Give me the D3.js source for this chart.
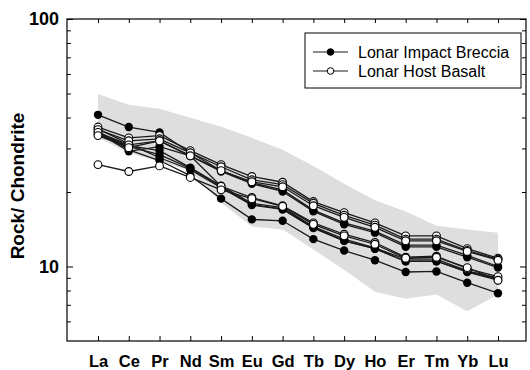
<!DOCTYPE html>
<html>
<head>
<meta charset="utf-8">
<script src="https://cdn.jsdelivr.net/npm/d3@7"></script>
<style>
  body { margin: 0; background: #fff; }
  svg { display: block; font-family: "Liberation Sans", Arial, Helvetica, sans-serif; }
</style>
</head>
<body>
<svg id="chart"></svg>
<script>
// REE elements (x categories)
const elements = ["La", "Ce", "Pr", "Nd", "Sm", "Eu", "Gd", "Tb", "Dy", "Ho", "Er", "Tm", "Yb", "Lu"]

// grey field, upper and lower bounds
const fieldUpper = [49.8, 45.0, 43.4, 39.9, 36.7, 33.1, 29.6, 25.5, 21.6, 18.5, 16.7, 14.6, 14.1, 13.7]
const fieldLower = [33.1, 28.8, 26.5, 24.4, 18.1, 14.5, 14.1, 11.7, 9.7, 7.9, 7.4, 7.7, 6.6, 7.7]

// Lonar Impact Breccia (filled)
const breccia1 = [41.0, 36.6, 34.8, 28.8, 24.4, 21.8, 20.4, 16.9, 15.0, 13.9, 12.2, 12.2, 11.1, 10.0]
const breccia2 = [34.7, 29.2, 30.5, 28.0, 24.2, 21.6, 20.1, 16.7, 14.8, 13.7, 12.0, 12.0, 10.9, 9.9]
const breccia3 = [34.4, 30.8, 29.4, 25.1, 21.2, 18.0, 17.3, 14.5, 12.9, 11.9, 10.7, 10.7, 9.6, 9.0]
const breccia4 = [34.1, 30.5, 28.3, 24.9, 21.0, 17.8, 17.1, 14.4, 12.7, 11.8, 10.5, 10.5, 9.55, 8.9]
const breccia5 = [35.2, 29.6, 26.8, 23.3, 18.8, 15.5, 15.3, 12.9, 11.6, 10.6, 9.5, 9.55, 8.6, 7.8]
const breccia6 = [36.0, 31.3, 27.5, 24.6, 20.8, 17.7, 17.0, 14.3, 12.7, 11.8, 10.5, 10.5, 9.5, 8.8]

// Lonar Host Basalt (open)
const basalt1 = [36.6, 33.1, 33.8, 29.4, 25.8, 23.1, 21.9, 18.3, 16.5, 15.0, 13.3, 13.3, 11.8, 10.8]
const basalt2 = [35.7, 32.2, 32.8, 28.8, 25.3, 22.4, 21.4, 18.0, 16.1, 14.7, 12.9, 12.9, 11.6, 10.7]
const basalt3 = [34.8, 31.0, 32.2, 28.0, 24.4, 22.0, 21.0, 17.6, 15.8, 14.4, 12.7, 12.7, 11.5, 10.6]
const basalt4 = [33.8, 30.2, 32.2, 28.0, 21.1, 19.0, 17.6, 15.0, 13.5, 12.5, 10.9, 11.0, 9.8, 9.1]
const basalt5 = [25.8, 24.2, 25.5, 22.9, 20.4, 18.8, 17.5, 14.8, 13.3, 12.3, 10.8, 10.9, 9.9, 8.8]

const brecciaSeries = [breccia1, breccia2, breccia3, breccia4, breccia5, breccia6]
const basaltSeries = [basalt1, basalt2, basalt3, basalt4, basalt5]

const legendLabels = ["Lonar Impact Breccia", "Lonar Host Basalt"]
const minorTicks = [6, 7, 8, 9, 20, 30, 40, 50, 60, 70, 80, 90]
const majorTicks = [10, 100]

const svgw = 530
const svgh = 370
const plotL = 67, plotR = 526, plotT = 19, plotB = 341

const svg = d3.select('#chart')
    .attr('width', svgw)
    .attr('height', svgh)

const xScale = d3.scalePoint()
    .domain(elements)
    .range([98, 498])

const yScale = d3.scaleLog()
    .domain([5, 100])
    .range([plotB, plotT])

// grey field
const field = d3.area()
    .x((d, i) => xScale(elements[i]))
    .y0((d, i) => yScale(fieldLower[i]))
    .y1(d => yScale(d))

svg.append('path')
    .datum(fieldUpper)
    .attr('d', field)
    .attr('fill', '#dedede')

// axes (ticks point inward)
const xBottom = d3.axisBottom(xScale).tickSize(-5).tickPadding(14)
const xTop = d3.axisTop(xScale).tickSize(-4).tickFormat('')
const yMinor = d3.axisLeft(yScale).tickValues(minorTicks).tickSize(-4).tickFormat('')
const yMajor = d3.axisLeft(yScale).tickValues(majorTicks).tickSize(-6).tickPadding(8).tickFormat(d3.format('d'))
const yRightMinor = d3.axisRight(yScale).tickValues(minorTicks).tickSize(-4).tickFormat('')
const yRightMajor = d3.axisRight(yScale).tickValues(majorTicks).tickSize(-6).tickFormat('')

const gx = svg.append('g').attr('transform', `translate(0,${plotB})`).call(xBottom)
svg.append('g').attr('transform', `translate(0,${plotT})`).call(xTop)
svg.append('g').attr('transform', `translate(${plotL},0)`).call(yMinor)
const gy = svg.append('g').attr('transform', `translate(${plotL},0)`).call(yMajor)
svg.append('g').attr('transform', `translate(${plotR},0)`).call(yRightMinor)
svg.append('g').attr('transform', `translate(${plotR},0)`).call(yRightMajor)

svg.selectAll('.domain').remove()
svg.selectAll('.tick line').attr('stroke', '#000').attr('stroke-width', 1)

gx.selectAll('text')
    .style('font-size', '16.5px')
    .style('font-weight', 'bold')
    .attr('fill', '#000')

gy.selectAll('text')
    .style('font-size', '18px')
    .style('font-weight', 'bold')
    .attr('fill', '#000')

// frame
svg.append('rect')
    .attr('x', plotL)
    .attr('y', plotT)
    .attr('width', plotR - plotL)
    .attr('height', plotB - plotT)
    .attr('fill', 'none')
    .attr('stroke', '#000')
    .attr('stroke-width', 1.2)

// y label
svg.append('text')
    .attr('transform', 'translate(24,186) rotate(-90)')
    .attr('text-anchor', 'middle')
    .style('font-size', '19px')
    .style('font-weight', 'bold')
    .text('Rock/ Chondrite')

const line = d3.line()
    .x((d, i) => xScale(elements[i]))
    .y(d => yScale(d))

const lineGroup = svg.append('g')

lineGroup.selectAll('.breccia-line')
    .data(brecciaSeries)
    .join('path')
    .attr('class', 'breccia-line')
    .attr('d', line)
    .attr('fill', 'none')
    .attr('stroke', '#1a1a1a')
    .attr('stroke-width', 1.3)

lineGroup.selectAll('.basalt-line')
    .data(basaltSeries)
    .join('path')
    .attr('class', 'basalt-line')
    .attr('d', line)
    .attr('fill', 'none')
    .attr('stroke', '#1a1a1a')
    .attr('stroke-width', 1.3)

// markers: filled first, open on top
brecciaSeries.forEach(s => {
    lineGroup.append('g').selectAll('circle')
        .data(s)
        .join('circle')
        .attr('cx', (d, i) => xScale(elements[i]))
        .attr('cy', d => yScale(d))
        .attr('r', 4.2)
        .attr('fill', '#000')
})

basaltSeries.forEach(s => {
    lineGroup.append('g').selectAll('circle')
        .data(s)
        .join('circle')
        .attr('cx', (d, i) => xScale(elements[i]))
        .attr('cy', d => yScale(d))
        .attr('r', 3.9)
        .attr('fill', '#fff')
        .attr('stroke', '#000')
        .attr('stroke-width', 1.1)
})

// legend
const legend = svg.append('g')

legend.append('rect')
    .attr('x', 305)
    .attr('y', 33)
    .attr('width', 216)
    .attr('height', 55)
    .attr('fill', '#fff')
    .attr('stroke', '#000')
    .attr('stroke-width', 1)

legendLabels.forEach((label, i) => {
    const ly = 52 + i * 19
    legend.append('line')
        .attr('x1', 313).attr('x2', 348)
        .attr('y1', ly).attr('y2', ly)
        .attr('stroke', '#1a1a1a')
        .attr('stroke-width', 1.2)
    legend.append('circle')
        .attr('cx', 330.5)
        .attr('cy', ly)
        .attr('r', 3.3)
        .attr('fill', i === 0 ? '#000' : '#fff')
        .attr('stroke', '#000')
        .attr('stroke-width', 1)
    legend.append('text')
        .attr('x', 358)
        .attr('y', ly + 5.5)
        .style('font-size', '16px')
        .text(label)
})
</script>
</body>
</html>
